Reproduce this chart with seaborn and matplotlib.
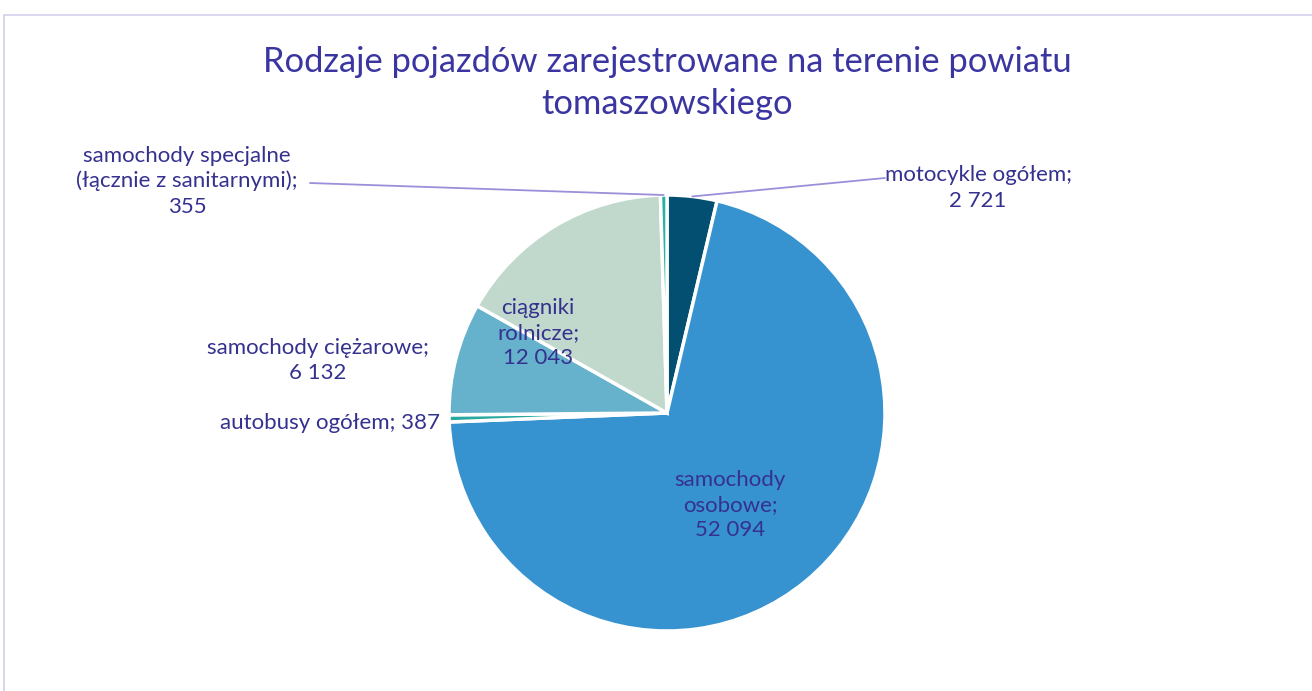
import numpy as np
import matplotlib
matplotlib.use("Agg")
import matplotlib.pyplot as plt
import matplotlib.patches as mpatches
import seaborn as sns

categories = ["motocykle ogółem", "samochody osobowe", "autobusy ogółem",
              "samochody ciężarowe", "ciągniki rolnicze",
              "samochody specjalne (łącznie z sanitarnymi)"]
values = [2721, 52094, 387, 6132, 12043, 355]
label_texts = ["motocykle ogółem;\n2 721",
               "samochody\nosobowe;\n52 094",
               "autobusy ogółem; 387",
               "samochody ciężarowe;\n6 132",
               "ciągniki\nrolnicze;\n12 043",
               "samochody specjalne\n(łącznie z sanitarnymi);\n355"]
colors = ["#024F72", "#3793D0", "#2AA89E", "#66B1CB", "#C1D9CD", "#2AB0A2"]
title = "Rodzaje pojazdów zarejestrowane na terenie powiatu\ntomaszowskiego"

sns.set_theme(style="white")
plt.rcParams['font.family'] = ['Lato', 'DejaVu Sans']

W, H = 1312, 691
fig = plt.figure(figsize=(W / 100, H / 100), dpi=100)
fig.patch.set_facecolor("white")

# chart frame
fig.patches.append(mpatches.Rectangle((4 / W, -0.05), 1.2, 1 - 15 / H + 0.05,
                                      transform=fig.transFigure, fill=False,
                                      edgecolor="#D3CFEC", linewidth=1.2))

cx, cy, r = 667, 413, 218
ax = fig.add_axes([(cx - r) / W, (H - cy - r) / H, 2 * r / W, 2 * r / H])
ax.set_aspect("equal")
wedges, _ = ax.pie(values, colors=colors, startangle=90, counterclock=False,
                   radius=1.0, wedgeprops=dict(edgecolor="white", linewidth=2.5))
ax.set_xlim(-1, 1)
ax.set_ylim(-1, 1)
ax.axis("off")

text_color = "#35318F"
line_color = "#9A90DA"
fs = 16

# label positions in data units (pie radius = 1)
label_pos = [(1.427, 1.032), (0.289, -0.422), (-1.546, -0.046),
             (-1.601, 0.239), (-0.592, 0.367), (-2.202, 1.064)]
leaders = {0: (1.0, 1.078), 5: (-1.638, 1.055)}

for i, (w, txt, pos) in enumerate(zip(wedges, label_texts, label_pos)):
    ax.text(pos[0], pos[1], txt, ha="center", va="center", fontsize=fs,
            color=text_color, linespacing=1.32, clip_on=False)
    if i in leaders:
        ang = np.deg2rad((w.theta1 + w.theta2) / 2)
        sx, sy = np.cos(ang) * 1.0, np.sin(ang) * 1.0
        ex, ey = leaders[i]
        ax.plot([sx, ex], [sy, ey], color=line_color, linewidth=1.3,
                clip_on=False)

fig.text(667 / W, 1 - 83 / H, title, ha="center", va="center", fontsize=24.8,
         color="#3A35A0", linespacing=1.4)

fig.savefig("out.png", dpi=100, facecolor="white")
